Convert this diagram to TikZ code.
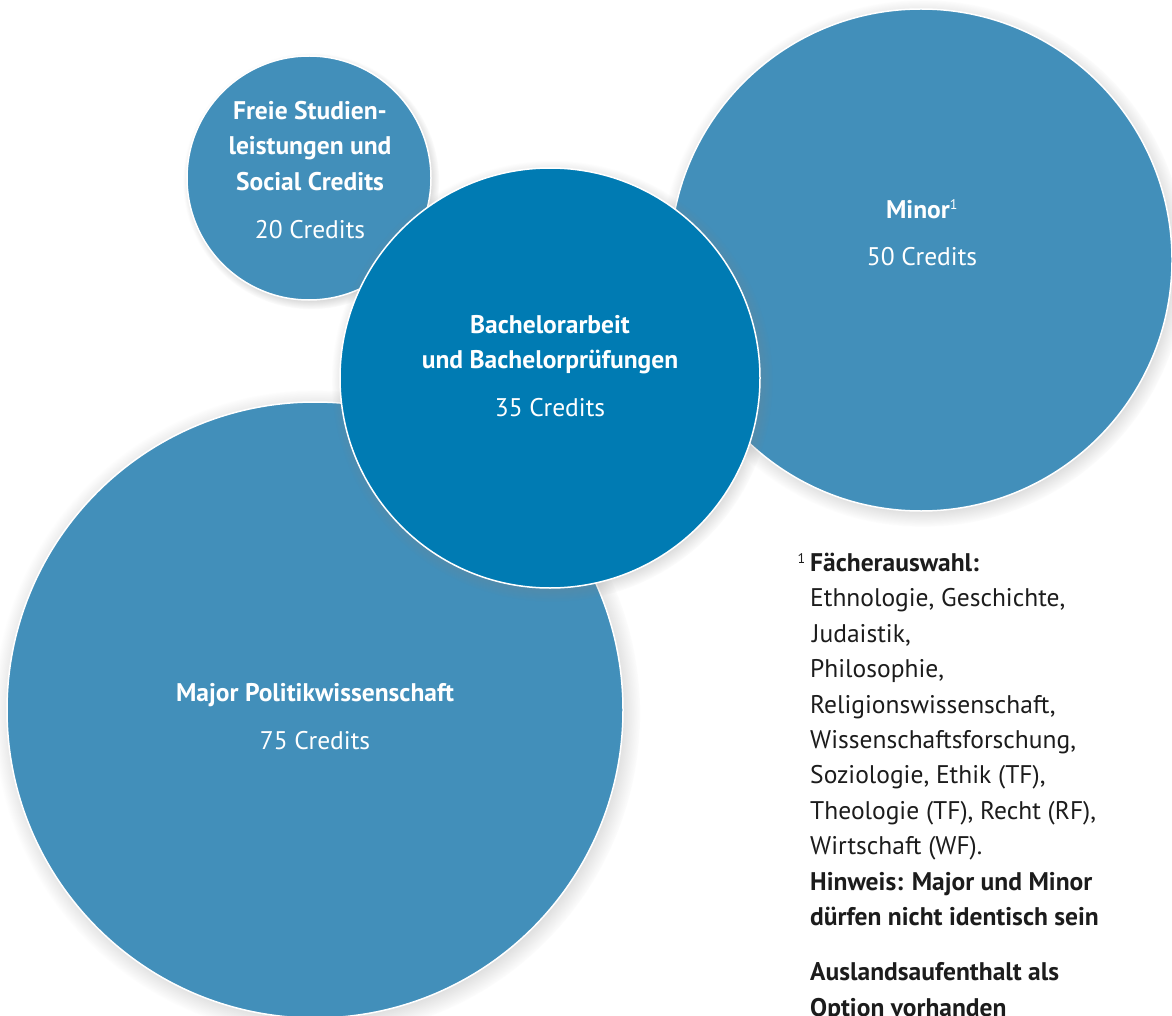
\documentclass[tikz,border=0pt]{standalone}
\usepackage{fontspec}
\setmainfont{PT Sans}
\usetikzlibrary{shadows}
\definecolor{studblue}{HTML}{428FBA}
\definecolor{thesisblue}{HTML}{007BB3}
\definecolor{notegray}{HTML}{1C1C1C}

\tikzset{
  credit circle/.style={circle, draw=white, line width=1.5pt, fill=studblue, inner sep=0pt,
    circular drop shadow={shadow xshift=2pt, shadow yshift=-3pt, shadow scale=1.05, opacity=.6}},
  circle text/.style={text=white, align=center, anchor=north, inner sep=0pt,
    font=\fontsize{25.5}{35.5}\selectfont},
  note text/.style={text=notegray, align=left, anchor=north west, inner sep=0pt,
    font=\fontsize{25.5}{35.4}\selectfont}
}

\begin{document}
\begin{tikzpicture}[x=1pt, y=-1pt]
    \useasboundingbox (0,0) rectangle (1172,1016);
    \clip (0,0) rectangle (1172,1016);

    % circles, back to front
    \node[credit circle, minimum size=244pt] (free) at (309,178) {};
    \node[credit circle, minimum size=502pt] (minor) at (921,260) {};
    \node[credit circle, minimum size=616pt] (major) at (315,710) {};
    \node[credit circle, fill=thesisblue, minimum size=420pt] (thesis) at (550,378) {};

    % labels
    \node[circle text] (freetext) at (310,101) {
        \textbf{Freie Studien-}\\
        \textbf{leistungen und}\\
        \textbf{Social Credits}\\[13pt]
        20 Credits};
    \node[circle text] (thesistext) at (550,315) {
        \textbf{Bachelorarbeit}\\
        \textbf{und Bachelorprüfungen}\\[12pt]
        35 Credits};
    \node[circle text] (minortext) at (922,199) {
        \textbf{Minor}\textsuperscript{\fontsize{14}{14}\selectfont 1}\\[12pt]
        50 Credits};
    \node[circle text] (majortext) at (315,683) {
        \textbf{Major Politikwissenschaft}\\[13pt]
        75 Credits};

    % footnote
    \node[note text] (note) at (810,553) {
        \makebox[0pt][r]{\raisebox{8pt}{\fontsize{14}{14}\selectfont 1}\hspace{5pt}}\textbf{Fächerauswahl:}\\
        Ethnologie, Geschichte,\\
        \hspace{2pt}Judaistik,\\
        Philosophie,\\
        Religionswissenschaft,\\
        Wissenschaftsforschung,\\
        Soziologie, Ethik (TF),\\
        Theologie (TF), Recht (RF),\\
        Wirtschaft (WF).\\
        \textbf{Hinweis: Major und Minor}\\
        \textbf{dürfen nicht identisch sein}\\[20pt]
        \textbf{Auslandsaufenthalt als}\\
        \textbf{Option vorhanden}};
\end{tikzpicture}
\end{document}
